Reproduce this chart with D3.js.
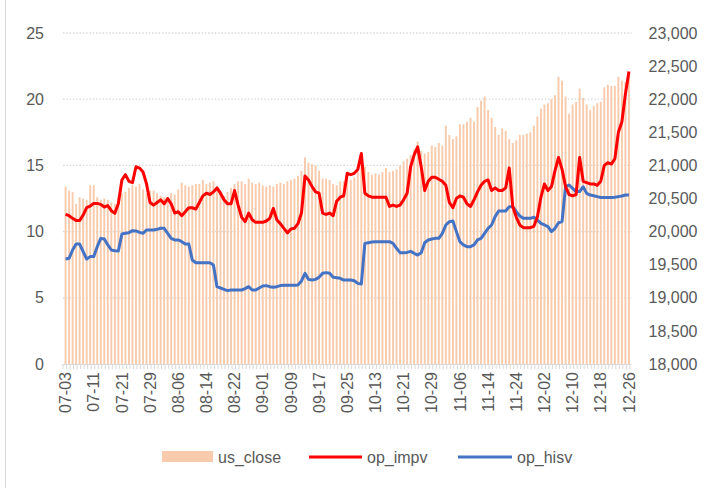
<!DOCTYPE html>
<html>
<head>
<meta charset="utf-8">
<script src="https://cdn.jsdelivr.net/npm/d3@7"></script>
<style>
  body { margin: 0; background: #fff; }
  svg { font-family: "Liberation Sans", Arial, sans-serif; }
</style>
</head>
<body>
<svg id="chart" width="716" height="488"></svg>
<script>
// 日期 (每 8 个显示一个标签)
const dates = [
  "07-03","07-04","07-05","07-06","07-07","07-08","07-09","07-10",
  "07-11","07-12","07-13","07-14","07-17","07-18","07-19","07-20",
  "07-21","07-22","07-23","07-24","07-25","07-26","07-27","07-28",
  "07-29","07-30","07-31","08-01","08-02","08-03","08-04","08-05",
  "08-06","08-07","08-08","08-09","08-10","08-11","08-12","08-13",
  "08-14","08-15","08-16","08-17","08-18","08-19","08-20","08-21",
  "08-22","08-23","08-24","08-25","08-28","08-29","08-30","08-31",
  "09-01","09-02","09-03","09-04","09-05","09-06","09-07","09-08",
  "09-09","09-10","09-11","09-12","09-13","09-14","09-15","09-16",
  "09-17","09-18","09-19","09-20","09-21","09-22","09-23","09-24",
  "09-25","09-26","09-27","09-28","10-09","10-10","10-11","10-12",
  "10-13","10-14","10-15","10-16","10-17","10-18","10-19","10-20",
  "10-21","10-22","10-23","10-24","10-25","10-26","10-27","10-28",
  "10-29","10-30","10-31","11-01","11-02","11-03","11-04","11-05",
  "11-06","11-07","11-08","11-09","11-10","11-11","11-12","11-13",
  "11-14","11-15","11-16","11-17","11-20","11-21","11-22","11-23",
  "11-24","11-25","11-26","11-27","11-28","11-29","11-30","12-01",
  "12-02","12-03","12-04","12-05","12-06","12-07","12-08","12-09",
  "12-10","12-11","12-12","12-13","12-14","12-15","12-16","12-17",
  "12-18","12-19","12-20","12-21","12-22","12-23","12-24","12-25",
  "12-26"
];

// us_close (右轴)
const usClose = [
  20680,20620,20600,20420,20520,20500,20480,20700,20700,20520,
  20480,20500,20480,20440,20420,20520,20580,20600,20660,20700,
  20680,20720,20640,20580,20620,20620,20580,20540,20520,20520,
  20580,20560,20640,20740,20700,20680,20700,20720,20720,20780,
  20720,20740,20760,20680,20580,20540,20600,20660,20720,20760,
  20760,20720,20800,20740,20720,20740,20700,20680,20700,20680,
  20720,20740,20720,20760,20780,20800,20840,20920,21120,21040,
  21020,21000,20920,20800,20800,20780,20720,20700,20760,20760,
  20800,20780,20820,20920,21080,20980,20900,20860,20880,20860,
  20900,20960,20900,20920,20940,21000,21060,21100,21160,21240,
  21360,21220,21180,21200,21300,21280,21340,21300,21600,21460,
  21400,21440,21620,21620,21660,21720,21660,21880,21980,22040,
  21840,21720,21580,21460,21560,21520,21400,21340,21380,21460,
  21460,21480,21500,21600,21740,21860,21920,21940,22000,22060,
  22340,22280,22040,21780,21920,21960,22160,22020,21920,21840,
  21900,21940,21960,22180,22220,22200,22200,22340,22280,22260,
  22360
];

// op_impv (左轴)
const opImpv = [
  11.30,11.20,11.00,10.83,10.83,11.25,11.81,11.93,12.13,12.13,
  12.06,11.86,11.96,11.58,11.38,12.13,13.90,14.30,13.80,13.70,
  14.90,14.80,14.50,13.60,12.20,12.00,12.20,12.40,12.10,12.50,
  12.10,11.40,11.50,11.20,11.50,11.80,11.80,11.70,12.20,12.70,
  12.90,12.80,13.00,13.30,12.90,12.40,12.10,12.10,13.10,12.00,
  11.10,10.75,11.40,10.90,10.70,10.70,10.70,10.80,11.00,11.75,
  10.90,10.60,10.25,9.90,10.20,10.25,10.60,11.40,14.20,13.90,
  13.40,13.00,12.90,11.40,11.30,11.40,11.20,12.30,12.60,12.70,
  14.40,14.30,14.40,14.70,15.90,12.90,12.70,12.60,12.60,12.60,
  12.60,12.60,11.90,12.00,11.90,12.00,12.40,12.90,14.90,15.80,
  16.40,14.90,13.10,13.80,14.10,14.10,13.95,13.80,13.50,12.20,
  11.80,12.50,12.70,12.60,12.10,11.90,12.40,13.00,13.50,13.80,
  13.90,13.10,13.30,13.10,13.10,13.30,14.80,11.90,11.10,10.50,
  10.30,10.30,10.30,10.40,11.10,12.60,13.60,13.10,13.40,14.60,
  15.60,14.70,13.40,12.80,12.70,12.80,15.60,13.80,13.70,13.60,
  13.60,13.50,13.80,15.00,15.20,15.10,15.50,17.50,18.30,20.40,
  22.10
];

// op_hisv (左轴)
const opHisv = [
  7.93,7.98,8.61,9.06,9.06,8.48,7.93,8.11,8.11,8.86,
  9.49,9.44,8.99,8.61,8.56,8.53,9.82,9.87,9.92,10.07,
  10.05,9.94,9.87,10.12,10.12,10.12,10.17,10.25,10.25,9.87,
  9.49,9.37,9.37,9.24,9.06,9.06,7.85,7.65,7.65,7.65,
  7.65,7.65,7.48,5.84,5.74,5.64,5.54,5.59,5.59,5.59,
  5.59,5.69,5.84,5.59,5.59,5.74,5.89,5.92,5.84,5.79,
  5.84,5.92,5.94,5.94,5.94,5.94,5.97,6.27,6.85,6.39,
  6.34,6.39,6.55,6.85,6.90,6.85,6.55,6.52,6.47,6.34,
  6.34,6.34,6.29,6.09,6.04,9.11,9.16,9.21,9.24,9.24,
  9.24,9.24,9.24,9.11,8.74,8.41,8.41,8.43,8.51,8.36,
  8.23,8.41,9.16,9.37,9.44,9.49,9.49,9.87,10.50,10.75,
  10.80,10.00,9.24,8.99,8.86,8.86,8.99,9.37,9.49,9.87,
  10.25,10.50,11.13,11.56,11.56,11.56,11.88,11.88,11.51,11.18,
  11.00,11.00,11.00,11.08,10.88,10.62,10.50,10.37,10.00,10.25,
  10.67,10.75,13.39,13.52,13.27,13.02,13.02,13.39,12.89,12.76,
  12.71,12.64,12.58,12.58,12.58,12.58,12.59,12.64,12.69,12.76,
  12.76
];

const leftTicks = [0, 5, 10, 15, 20, 25];
const rightTicks = [18000, 18500, 19000, 19500, 20000, 20500, 21000, 21500, 22000, 22500, 23000];

const svg = d3.select("#chart");
const plotLeft = 63, plotRight = 631.5, plotTop = 33, plotBottom = 364;
const textColor = "#595959";

const x = d3.scaleBand().domain(dates).range([plotLeft, plotRight]).padding(0.45);
const yL = d3.scaleLinear().domain([0, 25]).range([plotBottom, plotTop]);
const yR = d3.scaleLinear().domain([18000, 23000]).range([plotBottom, plotTop]);

// 外框左边线
svg.append("line")
  .attr("x1", 5.5).attr("x2", 5.5)
  .attr("y1", 0).attr("y2", 488)
  .attr("stroke", "#d9d9d9");

// 网格线
svg.append("g")
  .selectAll("line")
  .data(leftTicks.slice(1))
  .enter()
  .append("line")
  .attr("x1", plotLeft).attr("x2", plotRight)
  .attr("y1", (d) => yL(d)).attr("y2", (d) => yL(d))
  .attr("stroke", "#d9d9d9")
  .attr("stroke-width", 1.3)
  .attr("stroke-dasharray", "1.5,1.8");

// bars
svg.append("g")
  .selectAll("rect")
  .data(dates)
  .enter()
  .append("rect")
  .attr("x", (d) => x(d))
  .attr("y", (d, i) => yR(usClose[i]))
  .attr("width", x.bandwidth())
  .attr("height", (d, i) => plotBottom - yR(usClose[i]))
  .attr("fill", "#f8cbad");

// x轴
const step = x.step();
const xAxis = svg.append("g")
  .attr("transform", "translate(0," + plotBottom + ")")
  .call(d3.axisBottom(x)
    .tickValues(dates.filter((d, i) => i % 8 === 0))
    .tickSize(0)
    .tickPadding(0));
xAxis.select(".domain").remove();
xAxis.selectAll("text")
  .attr("transform", "rotate(-90)")
  .attr("x", -8)
  .attr("y", 0)
  .attr("dy", "0.35em")
  .attr("text-anchor", "end")
  .attr("fill", textColor)
  .attr("font-size", "16px");

// 类别刻度
svg.append("g")
  .selectAll("line")
  .data(dates.concat(["end"]))
  .enter()
  .append("line")
  .attr("x1", (d, i) => plotLeft + i * step)
  .attr("x2", (d, i) => plotLeft + i * step)
  .attr("y1", plotBottom).attr("y2", plotBottom + 5)
  .attr("stroke", "#d9d9d9");
svg.append("line")
  .attr("x1", plotLeft).attr("x2", plotRight)
  .attr("y1", plotBottom + 0.5).attr("y2", plotBottom + 0.5)
  .attr("stroke", "#d9d9d9");

// 左轴
const gL = svg.append("g")
  .attr("transform", "translate(" + plotLeft + ",0)")
  .call(d3.axisLeft(yL).tickValues(leftTicks).tickSize(0).tickPadding(19));
gL.select(".domain").remove();
gL.selectAll("text").attr("fill", textColor).attr("font-size", "16px");

// 右轴
const gR = svg.append("g")
  .attr("transform", "translate(" + plotRight + ",0)")
  .call(d3.axisRight(yR).tickValues(rightTicks).tickFormat(d3.format(",")).tickSize(0).tickPadding(17));
gR.select(".domain").remove();
gR.selectAll("text").attr("fill", textColor).attr("font-size", "16px");

// 折线
const cx = (i) => x(dates[i]) + x.bandwidth() / 2;
const line = d3.line().x((d, i) => cx(i)).y((d) => yL(d));

svg.append("path")
  .datum(opHisv)
  .attr("d", line)
  .attr("fill", "none")
  .attr("stroke", "#4472c4")
  .attr("stroke-width", 3)
  .attr("stroke-linejoin", "round");

svg.append("path")
  .datum(opImpv)
  .attr("d", line)
  .attr("fill", "none")
  .attr("stroke", "#ff0000")
  .attr("stroke-width", 3)
  .attr("stroke-linejoin", "round");

// 图例
const legend = svg.append("g").attr("font-size", "16px").attr("fill", textColor);
legend.append("rect").attr("x", 162).attr("y", 451).attr("width", 51).attr("height", 11).attr("fill", "#f8cbad");
legend.append("text").attr("x", 218).attr("y", 457).attr("dy", "0.35em").text("us_close");
legend.append("line").attr("x1", 309).attr("x2", 362).attr("y1", 457).attr("y2", 457)
  .attr("stroke", "#ff0000").attr("stroke-width", 3);
legend.append("text").attr("x", 367).attr("y", 457).attr("dy", "0.35em").text("op_impv");
legend.append("line").attr("x1", 458).attr("x2", 512).attr("y1", 457).attr("y2", 457)
  .attr("stroke", "#4472c4").attr("stroke-width", 3);
legend.append("text").attr("x", 517).attr("y", 457).attr("dy", "0.35em").text("op_hisv");
</script>
</body>
</html>
